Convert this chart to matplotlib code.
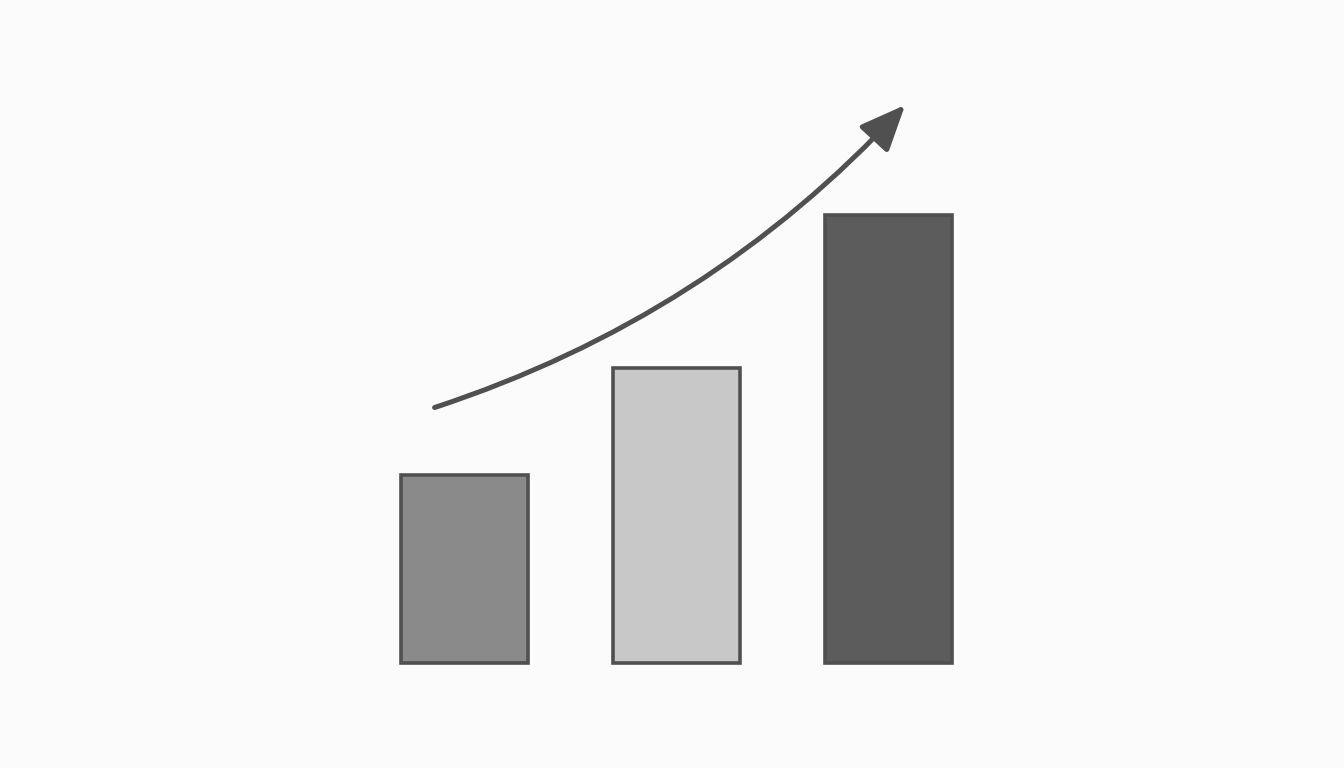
import matplotlib
matplotlib.use("Agg")
from matplotlib import pyplot as plt
import numpy as np

# bar data (arbitrary units)
categories = ["A", "B", "C"]
values = [25.2, 39.5, 60.0]
bar_colors = ["#8a8a8a", "#c8c8c8", "#5c5c5c"]

# trend arrow: start and end (x in category units, y in value units)
arrow_start = (-0.14, 34.2)
arrow_end = (2.08, 74.7)

EDGE = "#505050"
BG = "#fbfbfb"

fig = plt.figure(figsize=(13.44, 7.68), dpi=100, facecolor=BG)
ax = fig.add_axes([0, 0, 1, 1])
ax.set_facecolor(BG)

x = np.arange(len(categories))
ax.bar(x, values, width=0.6, color=bar_colors, edgecolor=EDGE, linewidth=2.6)

ax.annotate("", xy=arrow_end, xytext=arrow_start,
            arrowprops=dict(arrowstyle="-|>,head_length=1.4,head_width=0.6",
                            mutation_scale=20, color=EDGE, lw=3.6,
                            capstyle="round",
                            connectionstyle="arc3,rad=0.13",
                            shrinkA=0, shrinkB=0))

ax.set_xlim(-2.19, 4.15)
ax.set_ylim(-14.05, 88.75)
ax.axis("off")

fig.savefig("out.png", dpi=100, facecolor=BG)
